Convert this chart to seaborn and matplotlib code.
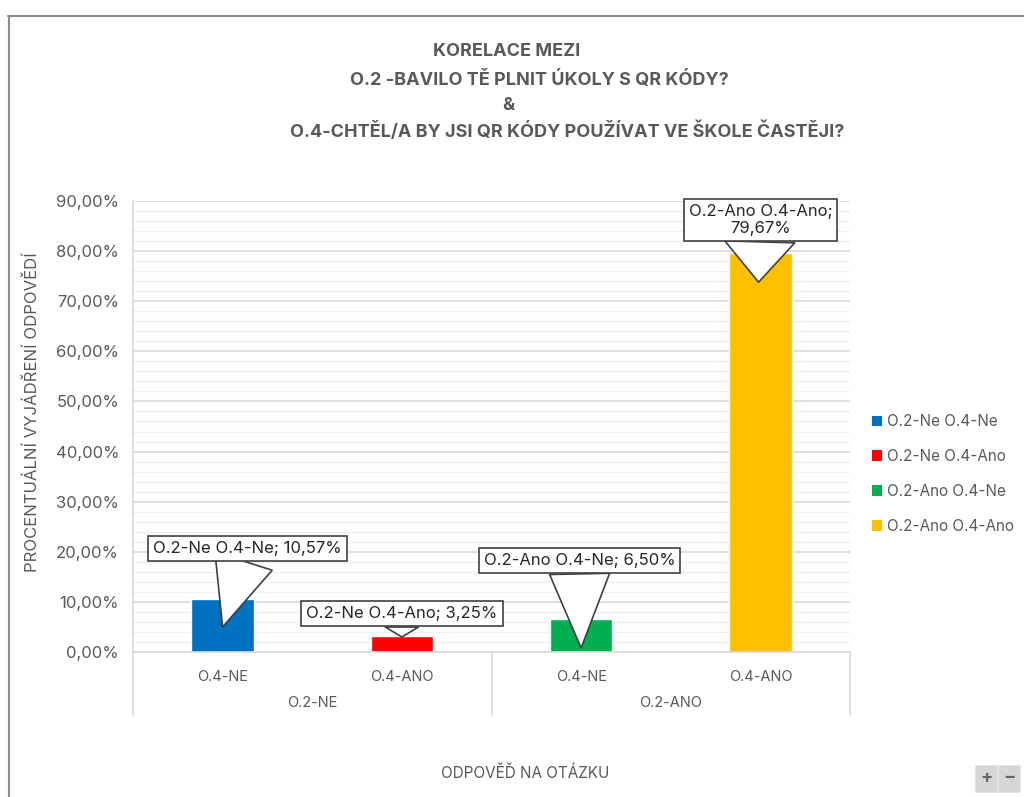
import pandas as pd
import seaborn as sns
import matplotlib.pyplot as plt
from matplotlib.patches import Rectangle
from matplotlib.lines import Line2D
from matplotlib.ticker import FuncFormatter, MultipleLocator
import matplotlib.transforms as mtransforms

# Data
series = ["O.2-Ne O.4-Ne", "O.2-Ne O.4-Ano", "O.2-Ano O.4-Ne", "O.2-Ano O.4-Ano"]
values = [10.57, 3.25, 6.50, 79.67]
sub_labels = ["O.4-NE", "O.4-ANO", "O.4-NE", "O.4-ANO"]
group_labels = ["O.2-NE", "O.2-ANO"]
colors = ["#0070C0", "#FF0000", "#00B050", "#FFC000"]

df = pd.DataFrame({"Serie": series, "Hodnota": values})

sns.set_theme(style="white")
plt.rcParams["font.family"] = ["Inter", "DejaVu Sans"]
gray = "#595959"

fig = plt.figure(figsize=(10.24, 7.97), dpi=100)
ax = fig.add_axes([133 / 1024, 1 - 652 / 797, (850 - 133) / 1024, (652 - 201) / 797])

sns.barplot(data=df, x="Serie", y="Hodnota", hue="Serie", palette=colors,
            dodge=False, width=0.35, legend=False, ax=ax, saturation=1)

ax.set_xlim(-0.5, 3.5)
ax.set_ylim(0, 90)
ax.yaxis.set_major_locator(MultipleLocator(10))
ax.yaxis.set_minor_locator(MultipleLocator(2))
ax.yaxis.set_major_formatter(FuncFormatter(lambda v, p: f"{v:.2f}".replace(".", ",") + "%"))
ax.grid(axis="y", which="major", color="#d9d9d9", lw=1.2)
ax.grid(axis="y", which="minor", color="#efefef", lw=1.0)
ax.set_axisbelow(True)
for s in ["top", "right"]:
    ax.spines[s].set_visible(False)
ax.spines["left"].set_color("#d9d9d9")
ax.spines["bottom"].set_color("#d9d9d9")
ax.tick_params(axis="y", which="both", length=0, labelsize=12, labelcolor=gray, pad=10)
ax.tick_params(axis="x", length=0, labelsize=10.5, labelcolor=gray, pad=13)
ax.set_xticks(range(len(sub_labels)))
ax.set_xticklabels(sub_labels)
ax.set_xlabel("")
ax.set_ylabel("")

# group separators and labels under axis
trans = mtransforms.blended_transform_factory(ax.transData, ax.transAxes)
for xs in [-0.5, 1.5, 3.5]:
    ax.plot([xs, xs], [0, -0.14], transform=trans, color="#d9d9d9", lw=1.2, clip_on=False)
for i, g in enumerate(group_labels):
    ax.text(0.5 + 2 * i, -0.113, g, transform=trans, ha="center", va="center",
            fontsize=10.5, color=gray)

# callouts: text, box centre, pointer tip, wedge width
callouts = [
    ("O.2-Ne O.4-Ne; 10,57%", (0.14, 20.75), (0.0, 5.0), 3.6),
    ("O.2-Ne O.4-Ano; 3,25%", (1.0, 7.6), (1.0, 3.0), 2.0),
    ("O.2-Ano O.4-Ne; 6,50%", (1.99, 18.2), (2.0, 0.8), 3.6),
    ("O.2-Ano O.4-Ano;\n79,67%", (3.0, 86.2), (2.99, 73.8), 4.2),
]
for txt, xytext, xy, tw in callouts:
    ax.annotate(txt, xy=xy, xytext=xytext, ha="center", va="center",
                fontsize=12, color="#262626",
                bbox=dict(boxstyle="square,pad=0.3", fc="white", ec="#404040", lw=1.2),
                arrowprops=dict(arrowstyle=f"wedge,tail_width={tw},shrink_factor=0.5",
                                fc="white", ec="#404040", lw=1.2, shrinkA=0, shrinkB=0))

# legend
handles = [Rectangle((0, 0), 1, 1, fc=c, ec="none") for c in colors]
fig.legend(handles, series, loc="center left", bbox_to_anchor=(858 / 1024, 1 - 474 / 797),
           frameon=False, fontsize=11, labelcolor=gray, handlelength=0.7,
           handleheight=0.7, handletextpad=0.3, labelspacing=1.3)

# title
title_lines = [
    ("KORELACE MEZI", 507, 52),
    ("O.2 -BAVILO TĚ PLNIT ÚKOLY S QR KÓDY?", 539, 80),
    ("&", 508, 105),
    ("O.4-CHTĚL/A BY JSI QR KÓDY POUŽÍVAT VE ŠKOLE ČASTĚJI?", 567, 131),
]
for t, x, y in title_lines:
    fig.text(x / 1024, 1 - y / 797, t, ha="center", va="center", fontsize=13,
             fontweight="bold", color=gray)

# axis titles
fig.text(32 / 1024, 1 - 412 / 797, "PROCENTUÁLNÍ VYJÁDŘENÍ ODPOVĚDÍ", rotation=90,
         ha="center", va="center", fontsize=12, color=gray)
fig.text(525 / 1024, 1 - 773 / 797, "ODPOVĚĎ NA OTÁZKU", ha="center", va="center",
         fontsize=11, color=gray)

# outer frame (left and top)
fig.add_artist(Line2D([8.5 / 1024, 8.5 / 1024], [0, 1 - 16 / 797], color="#8c8c8c", lw=1.5))
fig.add_artist(Line2D([8 / 1024, 1], [1 - 16 / 797, 1 - 16 / 797], color="#8c8c8c", lw=1.5))

# zoom buttons
for x0, sym in [(975, "+"), (998, "−")]:
    fig.add_artist(Rectangle((x0 / 1024, 1 - 792 / 797), 22 / 1024, 27 / 797,
                             fc="#d6d6d6", ec="#e6e6e6", lw=0.8))
    fig.text((x0 + 11) / 1024, 1 - 778 / 797, sym, ha="center", va="center",
             fontsize=13, fontweight="bold", color="#666666")

fig.savefig("out.png", dpi=100)
